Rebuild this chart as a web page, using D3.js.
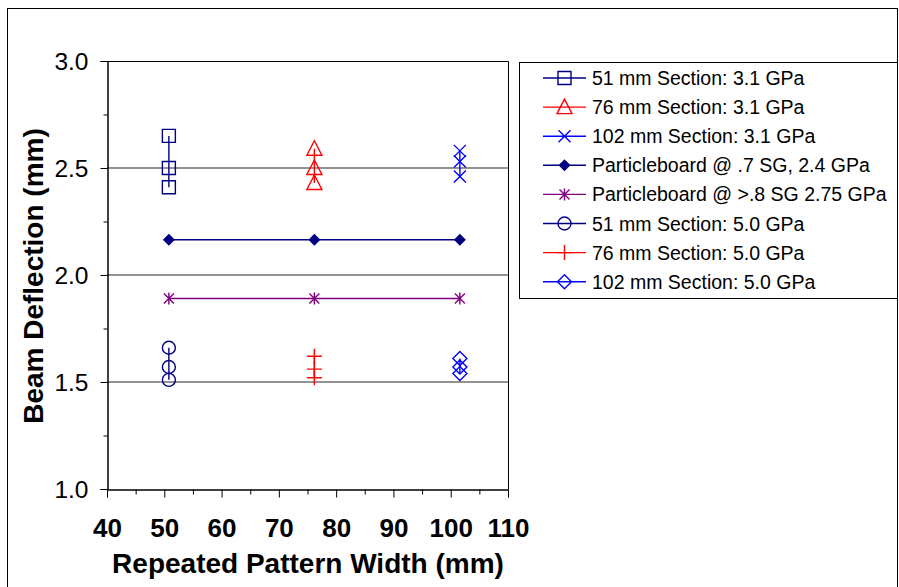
<!DOCTYPE html>
<html><head><meta charset="utf-8">
<script src="https://cdn.jsdelivr.net/npm/d3@7"></script>
<style>
body{margin:0;background:#fff}
svg{display:block}
text{font-family:Arial,"Liberation Sans",sans-serif;fill:#000}
</style>
</head><body>
<svg id="c" width="899" height="587"></svg>
<script>
// ---- data ----
const sectionWidths = [50.8, 76.2, 101.6];          // repeated pattern widths (mm)
const sec51_31 = [2.65, 2.50, 2.41];
const sec76_31 = [2.59, 2.50, 2.43];
const sec102_31 = [2.58, 2.53, 2.46];
const pb07 = [2.165, 2.165, 2.165];
const pb08 = [1.89, 1.89, 1.89];
const sec51_50 = [1.66, 1.57, 1.51];
const sec76_50 = [1.62, 1.56, 1.52];
const sec102_50 = [1.61, 1.57, 1.54];
const seriesNames = [
  "51 mm Section: 3.1 GPa",
  "76 mm Section: 3.1 GPa",
  "102 mm Section: 3.1 GPa",
  "Particleboard @ .7 SG, 2.4 GPa",
  "Particleboard @ >.8 SG 2.75 GPa",
  "51 mm Section: 5.0 GPa",
  "76 mm Section: 5.0 GPa",
  "102 mm Section: 5.0 GPa"
];
const xTicks = [40, 50, 60, 70, 80, 90, 100, 110];
const xMinorTicks = [45, 55, 65, 75, 85, 95, 105];
const yTicks = [1.0, 1.5, 2.0, 2.5, 3.0];
const yMinorTicks = [1.25, 1.75, 2.25, 2.75];
const xTitle = "Repeated Pattern Width (mm)";
const yTitle = "Beam Deflection (mm)";

// ---- series table built from arrays ----
const same = (x, n) => Array(n).fill(x);
const series = [
  {name: seriesNames[0], xs: same(sectionWidths[0], 3), ys: sec51_31, color: "#000080", marker: "square"},
  {name: seriesNames[1], xs: same(sectionWidths[1], 3), ys: sec76_31, color: "#FF0000", marker: "triangle"},
  {name: seriesNames[2], xs: same(sectionWidths[2], 3), ys: sec102_31, color: "#0000FF", marker: "x"},
  {name: seriesNames[3], xs: sectionWidths, ys: pb07, color: "#000080", marker: "diamondFilled"},
  {name: seriesNames[4], xs: sectionWidths, ys: pb08, color: "#800080", marker: "star"},
  {name: seriesNames[5], xs: same(sectionWidths[0], 3), ys: sec51_50, color: "#000080", marker: "circle"},
  {name: seriesNames[6], xs: same(sectionWidths[1], 3), ys: sec76_50, color: "#FF0000", marker: "plus"},
  {name: seriesNames[7], xs: same(sectionWidths[2], 3), ys: sec102_50, color: "#0000FF", marker: "diamond"}
];

// ---- layout ----
const svg = d3.select("#c");
const L = 107, R = 508, T = 61, B = 489;
const x = d3.scaleLinear().domain([40, 110]).range([L, R]);
const y = d3.scaleLinear().domain([1, 3]).range([B, T]);

// outer chart border
svg.append("rect").attr("x", 7.5).attr("y", 8.5).attr("width", 890).attr("height", 620)
  .attr("fill", "#fff").attr("stroke", "#000").attr("stroke-width", 1);

// gridlines
svg.append("g").selectAll("line").data(yTicks.filter(d => d > 1 && d < 3)).join("line")
  .attr("x1", L).attr("x2", R).attr("y1", d => y(d)).attr("y2", d => y(d))
  .attr("stroke", "#6e6e6e").attr("stroke-width", 1.4);

// plot border (top & right)
svg.append("path").attr("d", `M${L},${T + 0.5}H${R + 0.5}V${B}`)
  .attr("fill", "none").attr("stroke", "#000").attr("stroke-width", 1);

// axes
const yAxis = svg.append("g").attr("transform", `translate(${L + 0.5},0)`)
  .call(d3.axisLeft(y).tickValues(yTicks).tickSize(7).tickPadding(12).tickFormat(d3.format(".1f")));
svg.append("g").attr("transform", `translate(${L + 0.5},0)`)
  .call(d3.axisLeft(y).tickValues(yMinorTicks).tickSize(4).tickFormat(""));
const xAxis = svg.append("g").attr("transform", `translate(0,${B + 0.5})`)
  .call(d3.axisBottom(x).tickValues(xTicks).tickSize(8).tickFormat(d3.format("d")));
svg.append("g").attr("transform", `translate(0,${B + 0.5})`)
  .call(d3.axisBottom(x).tickValues(xMinorTicks).tickSize(5).tickFormat(""));
svg.selectAll(".domain").attr("stroke", "#000");
svg.selectAll(".tick line").attr("stroke", "#000");

yAxis.selectAll("text").attr("font-size", 24.5).attr("font-family", "Arial,'Liberation Sans',sans-serif")
  .attr("fill", "#000").attr("dy", "0.36em");
xAxis.selectAll("text").attr("font-size", 26).attr("font-weight", "bold")
  .attr("font-family", "Arial,'Liberation Sans',sans-serif").attr("fill", "#000")
  .attr("y", 47.5).attr("dy", 0);

// titles
svg.append("text").attr("x", 308).attr("y", 573).attr("text-anchor", "middle")
  .attr("font-size", 28).attr("font-weight", "bold").text(xTitle);
svg.append("text").attr("transform", "translate(43,276) rotate(-90)").attr("text-anchor", "middle")
  .attr("font-size", 28).attr("font-weight", "bold").text(yTitle);

// markers
function markerPath(type) {
  switch (type) {
    case "square": return "M-6.5,-6.5H6.5V6.5H-6.5Z";
    case "triangle": return "M0,-8L7.5,6.5H-7.5Z";
    case "x": return "M-6,-6L6,6M-6,6L6,-6";
    case "diamondFilled": return "M0,-5L5,0L0,5L-5,0Z";
    case "star": return "M-5,-5L5,5M-5,5L5,-5M0,-6V6";
    case "plus": return "M-7.5,0H7.5M0,-7.5V7.5";
    case "diamond": return "M0,-7L7,0L0,7L-7,0Z";
  }
  return "";
}
function drawMarker(g, m, color) {
  if (m === "circle") {
    g.append("circle").attr("r", 6.5).attr("fill", "none").attr("stroke", color).attr("stroke-width", 1.4);
  } else {
    g.append("path").attr("d", markerPath(m))
      .attr("fill", m === "diamondFilled" ? color : "none")
      .attr("stroke", color).attr("stroke-width", 1.4);
  }
}

const line = d3.line().x(d => x(d[0])).y(d => y(d[1]));
const plot = svg.append("g");
series.forEach(s => {
  const pts = s.xs.map((xv, i) => [xv, s.ys[i]]);
  plot.append("path").attr("d", line(pts)).attr("fill", "none")
    .attr("stroke", s.color).attr("stroke-width", 1.4);
  pts.forEach(p => {
    const g = plot.append("g").attr("transform", `translate(${x(p[0])},${y(p[1])})`);
    drawMarker(g, s.marker, s.color);
  });
});

// legend
const lg = svg.append("g");
lg.append("rect").attr("x", 519.5).attr("y", 62.5).attr("width", 378).attr("height", 236)
  .attr("fill", "#fff").attr("stroke", "#000").attr("stroke-width", 1);
series.forEach((s, i) => {
  const yy = 78 + i * 29.1;
  const g = lg.append("g");
  g.append("line").attr("x1", 543).attr("x2", 586).attr("y1", yy).attr("y2", yy)
    .attr("stroke", s.color).attr("stroke-width", 1.4);
  const mg = g.append("g").attr("transform", `translate(564.5,${yy})`);
  drawMarker(mg, s.marker, s.color);
  g.append("text").attr("x", 592).attr("y", yy).attr("dy", "0.36em")
    .attr("font-size", 19.5).text(s.name);
});
</script>
</body></html>
